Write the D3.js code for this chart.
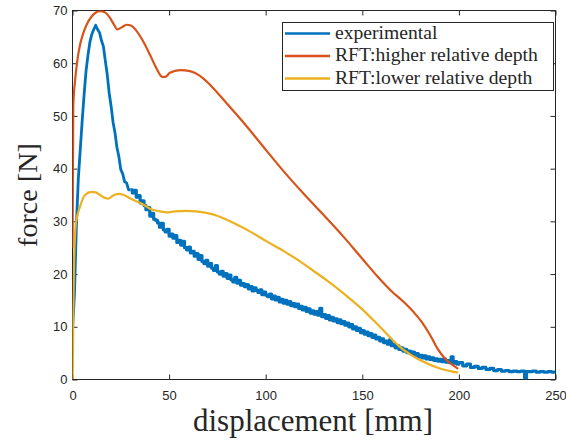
<!DOCTYPE html>
<html><head><meta charset="utf-8">
<script src="https://cdn.jsdelivr.net/npm/d3@7"></script>
<style>body{margin:0;background:#fff}</style>
</head><body><svg id="c" width="566" height="440"></svg>
<script>
// ---- data ----
const xTicks = [0, 50, 100, 150, 200, 250];
const yTicks = [0, 10, 20, 30, 40, 50, 60, 70];
const seriesNames = ["experimental", "RFT:higher relative depth", "RFT:lower relative depth"];
const seriesColors = ["#0072BD", "#D95319", "#EDB120"];
const xLabel = "displacement [mm]";
const yLabel = "force [N]";

const expX = [0,1,2,3,4,5,6,7,8,9,10,11,12,13,14,15,16,17,18,19,20,21,22,23,24,25,26,27,28,29,
  30,31,32,33,34,35,36,37,38,39,40,41,42,43,44,45,46,47,48,49,
  50,51,52,53,54,55,56,57,58,59,60,61,62,63,64,65,66,67,68,69,
  70,71,72,73,74,75,76,77,78,79,80,81,82,83,84,85,86,87,88,89,
  90,91,92,93,94,95,96,97,98,99,100,101,102,103,104,105,106,107,108,109,
  110,111,112,113,114,115,116,117,118,119,120,121,122,123,124,125,126,127,128,129,
  130,131,132,133,134,135,136,137,138,139,140,141,142,143,144,145,146,147,148,149,
  150,151,152,153,154,155,156,157,158,159,160,161,162,163,164,165,166,167,168,169,
  170,171,172,173,174,175,176,177,178,179,180,181,182,183,184,185,186,187,188,189,
  190,191,192,193,194,195,196,197,198,199,200,
  202,204,206,208,210,212,214,216,218,220,222,224,226,228,230,232,234,235,236,238,240,242,244,246,248,250];
const expY = [9.5,16,29,38,43.5,49,54,58.5,61.5,64,65.5,66.4,67.2,66.4,65.8,64.3,63.2,60.4,57.8,54.3,51.8,48.8,46.8,44.0,42.3,39.8,39.0,37.5,37.3,36.0,
  36.0,35.4,35.9,34.6,34.9,33.5,33.9,33.0,32.2,32.6,31.0,31.5,30.4,30.2,29.7,28.9,29.6,28.4,28.0,28.5,
  27.2,27.6,26.8,27.3,26.0,26.4,25.5,26.2,25.0,24.6,25.1,24.0,24.3,23.4,23.9,22.8,23.5,22.4,22.0,22.6,
  21.5,22.0,21.1,20.7,21.6,20.4,20.0,20.5,19.6,20.1,19.2,19.8,18.9,18.5,19.4,18.3,18.8,17.9,18.2,17.6,
  18.0,17.2,17.6,16.8,17.4,16.9,16.5,17.0,16.1,16.6,16.0,15.7,16.2,15.3,15.8,15.1,15.6,14.7,15.2,14.5,
  15.0,14.3,14.8,14.0,14.4,13.8,14.3,13.5,13.9,13.2,13.7,12.9,13.4,12.6,13.0,12.4,12.9,12.2,13.5,11.9,
  12.3,11.6,12.1,11.3,11.8,11.1,11.5,10.8,11.3,10.6,11.0,10.3,10.7,10.0,10.4,9.6,10.0,9.3,9.7,8.9,
  9.3,8.6,9.0,8.3,8.7,8.0,8.4,7.7,8.0,7.3,7.7,7.0,7.3,6.7,7.5,6.4,6.7,6.0,6.4,5.7,
  6.0,5.4,5.7,5.1,5.4,4.9,5.2,4.6,4.9,4.3,4.6,4.1,4.5,3.9,4.3,3.8,4.1,3.6,3.9,3.5,
  3.8,3.4,3.9,3.3,3.6,3.2,4.3,3.1,3.4,2.9,3.2,
  2.6,2.9,2.3,2.5,2.1,2.3,1.9,2.1,1.7,1.9,1.6,1.7,1.5,1.6,1.5,1.6,0.3,1.5,1.5,1.6,1.4,1.5,1.4,1.5,1.4,1.5];

const highX = [0,0.4,1.3,2.5,3.9,5.5,7.3,10,14.2,17,19.4,21.5,23.2,25.5,28,30.5,33.2,36.5,40.1,43.5,46.5,48,50.4,55.6,60.8,66,72,80,90,100,110,120,130,140,150,158,165,172,177,181,185,189,193,196.5,199.6];
const highY = [25,52,56.6,60.5,63.5,65.6,67.3,68.9,69.9,69.6,68.6,67.3,66.4,66.8,67.3,67.1,66.1,64.2,61.6,59.0,57.4,57.4,58.2,58.7,58.5,57.6,55.6,52.3,48.1,43.6,39.2,35.1,31.2,27.2,22.9,19.5,16.8,14.5,12.6,10.8,8.5,5.8,3.9,2.8,2.0];

const lowX = [0,0.1,0.4,0.8,1.8,3.9,6.5,9.9,12,14.2,16.5,18.5,21,23.7,26.5,29.7,33,36.6,40.1,45.3,48.7,53,59.1,64,69.4,74.5,79.8,85,91.8,100.5,109.1,117,126.3,132,138,144,150,159.1,169.4,179.8,190.2,199.6];
const lowY = [0,1.2,12.6,22.1,29.7,32.8,35.0,35.6,35.5,35.0,34.5,34.3,34.9,35.2,35.0,34.4,33.8,33.2,32.4,31.9,31.7,31.9,32.0,31.9,31.6,31.1,30.3,29.4,28.1,26.2,24.4,22.6,20.2,18.7,17.0,15.2,13.3,10.0,6.2,3.7,2.1,1.3];

// ---- drawing ----
const svg = d3.select("#c");
const m = {l: 72.5, r: 555.5, t: 10.5, b: 379.5};
const x = d3.scaleLinear().domain([0, 250]).range([m.l, m.r]);
const y = d3.scaleLinear().domain([0, 70]).range([m.b, m.t]);
const axisColor = "#262626";
const sans = "'Liberation Sans', Arial, sans-serif";
const serif = "'Liberation Serif', 'Times New Roman', serif";

svg.append("rect").attr("width", 566).attr("height", 440).attr("fill", "#fff");

svg.append("clipPath").attr("id", "clip").append("rect")
  .attr("x", m.l).attr("y", m.t).attr("width", m.r - m.l).attr("height", m.b - m.t);

function styleAxis(g) {
  g.select(".domain").remove();
  g.selectAll(".tick line").attr("stroke", axisColor).attr("stroke-width", 1);
  g.selectAll(".tick text").attr("fill", axisColor).attr("font-family", sans).attr("font-size", 13);
}
svg.append("g").attr("transform", `translate(0,${m.b})`)
  .call(d3.axisBottom(x).tickValues(xTicks).tickSizeInner(-5).tickSizeOuter(0).tickPadding(11))
  .call(styleAxis);
svg.append("g").attr("transform", `translate(0,${m.t})`)
  .call(d3.axisTop(x).tickValues(xTicks).tickSizeInner(-5).tickSizeOuter(0).tickFormat(""))
  .call(styleAxis);
svg.append("g").attr("transform", `translate(${m.l},0)`)
  .call(d3.axisLeft(y).tickValues(yTicks).tickSizeInner(-5).tickSizeOuter(0).tickPadding(5))
  .call(styleAxis);
svg.append("g").attr("transform", `translate(${m.r},0)`)
  .call(d3.axisRight(y).tickValues(yTicks).tickSizeInner(-5).tickSizeOuter(0).tickFormat(""))
  .call(styleAxis);

svg.append("rect").attr("x", m.l).attr("y", m.t).attr("width", m.r - m.l).attr("height", m.b - m.t)
  .attr("fill", "none").attr("stroke", axisColor).attr("stroke-width", 1);

const plot = svg.append("g").attr("clip-path", "url(#clip)");
function drawPath(pts, color, w, curve) {
  plot.append("path").datum(pts)
    .attr("fill", "none").attr("stroke", color).attr("stroke-width", w)
    .attr("stroke-linejoin", "round")
    .attr("d", d3.line().x(d => x(d[0])).y(d => y(d[1])).curve(curve));
}
// experimental: smooth rise, then quantised (stepped) noisy tail
const expPts = expX.map((v, k) => [v, expY[k]]);
drawPath(expPts.filter(d => d[0] <= 30), seriesColors[0], 2.8, d3.curveLinear);
drawPath(expPts.filter(d => d[0] >= 30), seriesColors[0], 3.2, d3.curveStepAfter);
drawPath(highX.map((v, k) => [v, highY[k]]), seriesColors[1], 2.2, d3.curveMonotoneX);
drawPath(lowX.map((v, k) => [v, lowY[k]]), seriesColors[2], 2.2, d3.curveMonotoneX);

function fitWidth(sel, target) {
  const len = sel.node().getComputedTextLength();
  const fs = parseFloat(sel.attr("font-size"));
  sel.attr("font-size", fs * target / len);
}

// axis labels
const xl = svg.append("text").attr("x", (193 + 433) / 2).attr("y", 431)
  .attr("text-anchor", "middle").attr("font-family", serif).attr("font-size", 28)
  .attr("fill", axisColor).text(xLabel);
fitWidth(xl, 240);
const yl = svg.append("text").attr("transform", "translate(37,195) rotate(-90)")
  .attr("text-anchor", "middle").attr("font-family", serif).attr("font-size", 28)
  .attr("fill", axisColor).text(yLabel);
fitWidth(yl, 104);

// legend
const lg = svg.append("g");
lg.append("rect").attr("x", 282.5).attr("y", 22.5).attr("width", 271).attr("height", 68)
  .attr("fill", "#fff").attr("stroke", axisColor).attr("stroke-width", 1);
const rowsY = [33.5, 56, 78.5];
const texts = [];
seriesNames.forEach((n, i) => {
  lg.append("line").attr("x1", 285).attr("x2", 330).attr("y1", rowsY[i]).attr("y2", rowsY[i])
    .attr("stroke", seriesColors[i]).attr("stroke-width", 2.6);
  texts.push(lg.append("text").attr("x", 335).attr("y", rowsY[i] + 5)
    .attr("font-family", serif).attr("font-size", 18).attr("fill", axisColor).text(n));
});
const l1 = texts[1].node().getComputedTextLength();
const fsL = 18 * 203 / l1;
texts.forEach(t => t.attr("font-size", fsL));
</script></body></html>
